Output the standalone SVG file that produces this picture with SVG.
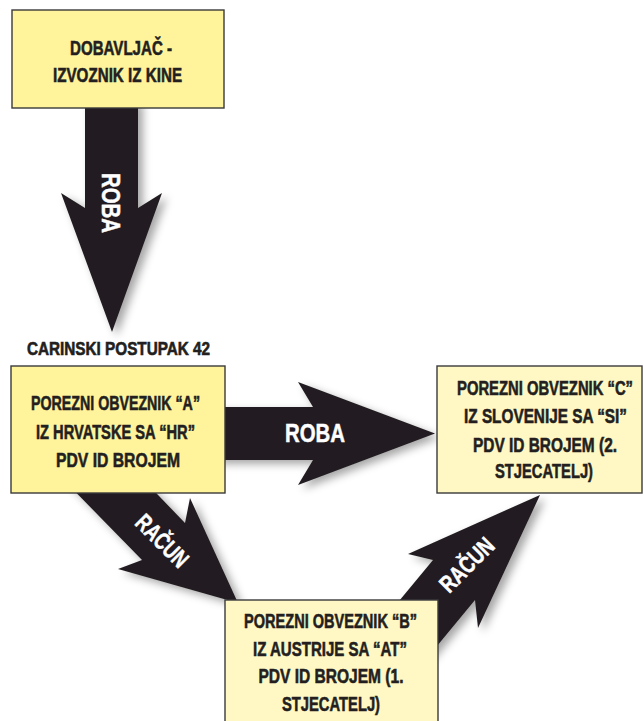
<svg xmlns="http://www.w3.org/2000/svg" width="644" height="721" viewBox="0 0 644 721">
<defs>
<filter id="sh" x="-30%" y="-30%" width="160%" height="160%">
<feDropShadow dx="5" dy="4" stdDeviation="4" flood-color="#000" flood-opacity="0.35"/>
</filter>
<style>
.arrow{fill:#231f20;filter:url(#sh)}
.box{stroke:#3a3a3a;stroke-width:1.4}
.y1{fill:#fff39c}
.y2{fill:#fff8c4}
.t{font-family:"Liberation Sans",Arial,sans-serif;font-weight:bold;font-size:21px;fill:#231f20;stroke:#231f20;stroke-width:0.6;text-anchor:middle}
.w{font-family:"Liberation Sans",Arial,sans-serif;font-weight:bold;font-size:26px;fill:#ffffff;stroke:#ffffff;stroke-width:0.5;text-anchor:middle}
</style>
</defs>
<rect width="644" height="721" fill="#ffffff"/>
<g id="connectors">
<polygon class="arrow" points="85,100 138,100 138,208 162,193 112,332 61,193 85,208"/>
<polygon class="arrow" points="215,407 313,407 298,382 435,433.5 298,485 313,460 215,460"/>
<polygon class="arrow" points="54,470 142,560 118,569 238,603 190,498 185,523 134,470"/>
<polygon class="arrow" points="380,624 433,560 408,554 540,495 478,628 475,600 380,715"/>
<text class="w" transform="translate(102,203) rotate(90) scale(0.78,1)" textLength="77" lengthAdjust="spacingAndGlyphs">ROBA</text>
<text class="w" transform="translate(315,442) scale(0.78,1)" textLength="77" lengthAdjust="spacingAndGlyphs">ROBA</text>
<text class="w" style="font-size:24px" transform="translate(162,541) rotate(45) scale(0.75,1)" y="8" textLength="85" lengthAdjust="spacingAndGlyphs">RAČUN</text>
<text class="w" style="font-size:24px" transform="translate(467,565) rotate(-45) scale(0.75,1)" y="8" textLength="88" lengthAdjust="spacingAndGlyphs">RAČUN</text>
</g>
<g id="dobavljac">
<rect class="box y1" x="12" y="10" width="212" height="98"/>
<text class="t" transform="translate(121,55) scale(0.7,1)" textLength="145.7" lengthAdjust="spacingAndGlyphs">DOBAVLJAČ -</text>
<text class="t" transform="translate(117.5,82) scale(0.7,1)" textLength="184.3" lengthAdjust="spacingAndGlyphs">IZVOZNIK IZ KINE</text>
</g>
<g id="carinski">
<text class="t" style="font-size:18px" transform="translate(118.5,355) scale(0.7,1)" textLength="261.4" lengthAdjust="spacingAndGlyphs">CARINSKI POSTUPAK 42</text>
</g>
<g id="obveznikA">
<rect class="box y1" x="11" y="366" width="214" height="127"/>
<text class="t" transform="translate(115.5,410) scale(0.7,1)" textLength="241.4" lengthAdjust="spacingAndGlyphs">POREZNI OBVEZNIK “A”</text>
<text class="t" transform="translate(115.5,438.5) scale(0.7,1)" textLength="227.1" lengthAdjust="spacingAndGlyphs">IZ HRVATSKE SA “HR”</text>
<text class="t" transform="translate(118,466.5) scale(0.7,1)" textLength="177.1" lengthAdjust="spacingAndGlyphs">PDV ID BROJEM</text>
</g>
<g id="obveznikC">
<rect class="box y2" x="437" y="366" width="205" height="127"/>
<text class="t" transform="translate(545,395) scale(0.7,1)" textLength="251.4" lengthAdjust="spacingAndGlyphs">POREZNI OBVEZNIK “C”</text>
<text class="t" transform="translate(545.5,423) scale(0.7,1)" textLength="232.9" lengthAdjust="spacingAndGlyphs">IZ SLOVENIJE SA “SI”</text>
<text class="t" transform="translate(545,451.5) scale(0.7,1)" textLength="205.7" lengthAdjust="spacingAndGlyphs">PDV ID BROJEM (2.</text>
<text class="t" transform="translate(544,478) scale(0.7,1)" textLength="140" lengthAdjust="spacingAndGlyphs">STJECATELJ)</text>
</g>
<g id="obveznikB">
<rect class="box y2" x="225" y="600" width="213" height="130"/>
<text class="t" transform="translate(330.5,628) scale(0.7,1)" textLength="247.1" lengthAdjust="spacingAndGlyphs">POREZNI OBVEZNIK “B”</text>
<text class="t" transform="translate(330,655.5) scale(0.7,1)" textLength="220" lengthAdjust="spacingAndGlyphs">IZ AUSTRIJE SA “AT”</text>
<text class="t" transform="translate(331,683) scale(0.7,1)" textLength="207.1" lengthAdjust="spacingAndGlyphs">PDV ID BROJEM (1.</text>
<text class="t" transform="translate(331,710.5) scale(0.7,1)" textLength="140" lengthAdjust="spacingAndGlyphs">STJECATELJ)</text>
</g>
</svg>
